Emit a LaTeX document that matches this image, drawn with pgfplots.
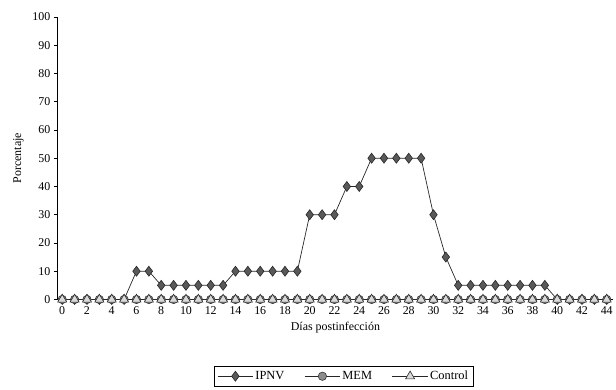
\documentclass[border=0pt]{standalone}
\usepackage{pgfplots}
\pgfplotsset{compat=1.18}
\usepackage{fontspec}
\setmainfont{Liberation Serif}
\begin{document}
\begin{tikzpicture}
\begin{axis}[
  name=ax,
  scale only axis,
  width=556bp, height=283bp,
  xmin=-0.35, xmax=44.5,
  ymin=0, ymax=100,
  axis lines*=left,
  axis line style={black, line width=0.8pt},
  xtick={0,2,...,44},
  ytick={0,10,...,100},
  tick align=outside,
  tick style={black, line width=0.7pt},
  major tick length=4bp,
  /pgf/number format/assume math mode=true,
  tick label style={font=\fontsize{12}{14}\selectfont},
  xlabel={Días postinfección},
  ylabel={Porcentaje},
  label style={font=\fontsize{12}{14}\selectfont},
  xlabel style={yshift=0bp},
  ylabel style={yshift=2bp},
  clip=false,
  legend columns=3,
  legend style={at={(0.515,-0.235)}, anchor=north, draw=black, line width=0.7pt,
    font=\fontsize{12.5}{14}\selectfont, inner sep=3bp,
    /tikz/every even column/.append style={column sep=18bp}},
  legend cell align=left,
  legend image code/.code={%
    \draw[#1] (0cm,0cm) -- (1.25cm,0cm);
    \draw[#1, only marks] plot coordinates {(0.625cm,0cm)};},
]
\addplot[black!85, line width=0.7pt, mark=diamond*, mark size=5bp,
  mark options={fill=black!65, draw=black!85, line width=0.6pt}] coordinates {
 (0,0) (1,0) (2,0) (3,0) (4,0) (5,0) (6,10) (7,10) (8,5) (9,5) (10,5) (11,5)
 (12,5) (13,5) (14,10) (15,10) (16,10) (17,10) (18,10) (19,10) (20,30) (21,30)
 (22,30) (23,40) (24,40) (25,50) (26,50) (27,50) (28,50) (29,50) (30,30) (31,15)
 (32,5) (33,5) (34,5) (35,5) (36,5) (37,5) (38,5) (39,5) (40,0) (41,0) (42,0)
 (43,0) (44,0)};
\addlegendentry{IPNV}
\addplot[black!85, line width=0.7pt, mark=*, mark size=4.2bp,
  mark options={fill=black!45, draw=black!80, line width=0.6pt}] coordinates {
 (0,0) (1,0) (2,0) (3,0) (4,0) (5,0) (6,0) (7,0) (8,0) (9,0) (10,0) (11,0)
 (12,0) (13,0) (14,0) (15,0) (16,0) (17,0) (18,0) (19,0) (20,0) (21,0)
 (22,0) (23,0) (24,0) (25,0) (26,0) (27,0) (28,0) (29,0) (30,0) (31,0)
 (32,0) (33,0) (34,0) (35,0) (36,0) (37,0) (38,0) (39,0) (40,0) (41,0) (42,0)
 (43,0) (44,0)};
\addlegendentry{MEM}
\addplot[black!85, line width=0.7pt, mark=triangle*, mark size=5.2bp,
  mark options={fill=black!15, draw=black!85, line width=0.6pt}] coordinates {
 (0,0) (1,0) (2,0) (3,0) (4,0) (5,0) (6,0) (7,0) (8,0) (9,0) (10,0) (11,0)
 (12,0) (13,0) (14,0) (15,0) (16,0) (17,0) (18,0) (19,0) (20,0) (21,0)
 (22,0) (23,0) (24,0) (25,0) (26,0) (27,0) (28,0) (29,0) (30,0) (31,0)
 (32,0) (33,0) (34,0) (35,0) (36,0) (37,0) (38,0) (39,0) (40,0) (41,0) (42,0)
 (43,0) (44,0)};
\addlegendentry{Control}
\end{axis}
\path ([xshift=-58bp,yshift=17bp]ax.north west) -- ([xshift=0bp,yshift=-90bp]ax.south east);
\end{tikzpicture}
\end{document}
